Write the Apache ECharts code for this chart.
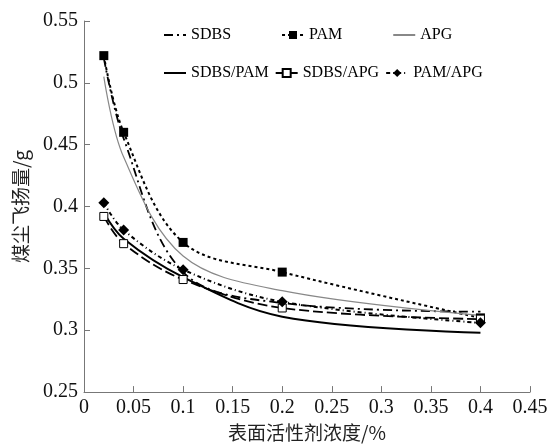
<!DOCTYPE html>
<html>
<head>
<meta charset="utf-8">
<script src="https://cdn.jsdelivr.net/npm/echarts@6/dist/echarts.min.js"></script>
<style>
  html, body { margin: 0; padding: 0; background: #fff; }
  #chart { width: 553px; height: 447px; }
</style>
</head>
<body>
<div id="chart"></div>
<script>
// 表面活性剂浓度 (%)
let conc = [0.02, 0.04, 0.1, 0.2, 0.4];
// 煤尘飞扬量 (g)
let sdbs = [0.52, 0.455, 0.347, 0.322, 0.315];
let pam = [0.522, 0.46, 0.371, 0.347, 0.31];
let apg = [0.505, 0.44, 0.36, 0.332, 0.312];
let sdbsPam = [0.395, 0.374, 0.343, 0.311, 0.298];
let sdbsApg = [0.392, 0.37, 0.341, 0.318, 0.309];
let pamApg = [0.403, 0.381, 0.349, 0.323, 0.306];

let pair = (ys) => conc.map((x, i) => [x, ys[i]]);

let chart = echarts.init(document.getElementById("chart"));
let font = "'Liberation Serif', 'Times New Roman', serif";
let cjk = "'Noto Sans CJK SC', sans-serif";
let noMark = { opacity: 0 };

let option = {
  backgroundColor: "#fff",
  animation: false,
  legend: [
    {
      data: [
        { name: "SDBS", itemStyle: noMark },
        "PAM",
        { name: "APG", itemStyle: noMark },
      ],
      left: 158,
      top: 22,
      itemGap: 50,
      itemWidth: 22,
      itemHeight: 10,
      textStyle: { fontFamily: font, fontSize: 16, color: "#000" },
    },
    {
      data: [{ name: "SDBS/PAM", itemStyle: noMark }, "SDBS/APG", "PAM/APG"],
      left: 158,
      top: 60,
      itemGap: 6,
      itemWidth: 22,
      itemHeight: 10,
      textStyle: { fontFamily: font, fontSize: 16, color: "#000" },
    },
  ],
  grid: { left: 84, right: 23, top: 21, bottom: 54 },
  xAxis: {
    type: "value",
    min: 0,
    max: 0.45,
    interval: 0.05,
    name: "表面活性剂浓度/%",
    nameLocation: "middle",
    nameGap: 30,
    nameTextStyle: { fontFamily: cjk, fontSize: 19, color: "#222" },
    axisLine: { lineStyle: { color: "#777" } },
    axisTick: { inside: true, length: 6, lineStyle: { color: "#777" } },
    axisLabel: { fontFamily: font, fontSize: 20, color: "#111", margin: 6 },
    splitLine: { show: false },
  },
  yAxis: {
    type: "value",
    min: 0.25,
    max: 0.55,
    interval: 0.05,
    name: "煤尘飞扬量/g",
    nameLocation: "middle",
    nameGap: 54,
    nameTextStyle: { fontFamily: cjk, fontSize: 19, color: "#222" },
    axisLine: { show: true, lineStyle: { color: "#777" } },
    axisTick: { show: true, inside: true, length: 6, lineStyle: { color: "#777" } },
    axisLabel: { fontFamily: font, fontSize: 20, color: "#111", margin: 6 },
    splitLine: { show: false },
  },
  series: [
    {
      name: "SDBS",
      type: "line",
      smooth: 0.35,
      symbol: "circle",
      showSymbol: false,
      lineStyle: { color: "#000", width: 1.8, type: [9, 4, 2, 4] },
      itemStyle: { color: "#000" },
      data: pair(sdbs),
    },
    {
      name: "PAM",
      type: "line",
      smooth: 0.35,
      symbol: "rect",
      symbolSize: 9,
      lineStyle: { color: "#000", width: 2, type: [3, 3] },
      itemStyle: { color: "#000" },
      data: pair(pam),
    },
    {
      name: "APG",
      type: "line",
      smooth: 0.35,
      symbol: "circle",
      showSymbol: false,
      lineStyle: { color: "#888", width: 1.2 },
      itemStyle: { color: "#888" },
      data: pair(apg),
    },
    {
      name: "SDBS/PAM",
      type: "line",
      smooth: 0.35,
      symbol: "circle",
      showSymbol: false,
      lineStyle: { color: "#000", width: 2 },
      itemStyle: { color: "#000" },
      data: pair(sdbsPam),
    },
    {
      name: "SDBS/APG",
      type: "line",
      smooth: 0.35,
      symbol: "rect",
      symbolSize: 8,
      lineStyle: { color: "#000", width: 1.8, type: [10, 4] },
      itemStyle: { color: "#fff", borderColor: "#000", borderWidth: 1 },
      data: pair(sdbsApg),
    },
    {
      name: "PAM/APG",
      type: "line",
      smooth: 0.35,
      symbol: "diamond",
      symbolSize: 11,
      lineStyle: { color: "#000", width: 2, type: [4, 3, 1, 3] },
      itemStyle: { color: "#000" },
      data: pair(pamApg),
    },
  ],
};
chart.setOption(option);
</script>
</body>
</html>
